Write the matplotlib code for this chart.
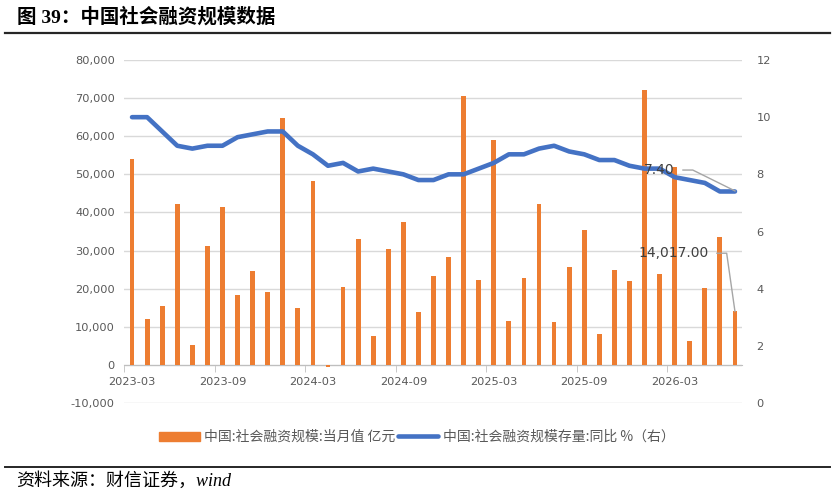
import matplotlib
matplotlib.use("Agg")
import matplotlib.pyplot as plt
import matplotlib.lines as mlines
import matplotlib.patches as mpatches
import pandas as pd

plt.rcParams['font.family'] = ['Noto Sans CJK SC', 'DejaVu Sans']

months = [p.strftime('%Y-%m') for p in pd.period_range('2023-03', '2026-07', freq='M')]

tsf_monthly = [53900, 12140, 15460, 42100, 5330, 31270, 41310, 18340, 24540, 19210,
               64720, 14930, 48300, -500, 20520, 33010, 7600, 30310, 37550, 13970,
               23230, 28380, 70480, 22270, 58950, 11620, 22880, 42180, 11270, 25680,
               35280, 8030, 24890, 22010, 72140, 23760, 51800, 6200, 20260, 33620,
               14017]

tsf_yoy = [10.0, 10.0, 9.5, 9.0, 8.9, 9.0, 9.0, 9.3, 9.4, 9.5,
           9.5, 9.0, 8.7, 8.3, 8.4, 8.1, 8.2, 8.1, 8.0, 7.8,
           7.8, 8.0, 8.0, 8.2, 8.4, 8.7, 8.7, 8.9, 9.0, 8.8,
           8.7, 8.5, 8.5, 8.3, 8.2, 8.2, 7.9, 7.8, 7.7, 7.4,
           7.4]

label_bar = "中国:社会融资规模:当月值 亿元"
label_line = "中国:社会融资规模存量:同比 %（右）"
title = "图 39：中国社会融资规模数据"
source = "资料来源：财信证券，wind"

ORANGE = '#ED7D31'
BLUE = '#4472C4'
GRID = '#D9D9D9'
TXT = '#595959'

W, H = 837, 494
fig = plt.figure(figsize=(W / 100, H / 100), dpi=100)

left, right, top, bottom = 124.5, 742.5, 60, 403
ax = fig.add_axes([left / W, 1 - bottom / H, (right - left) / W, (bottom - top) / H])
ax2 = ax.twinx()

x = list(range(len(months)))
ax.bar(x, tsf_monthly, width=0.32, color=ORANGE, zorder=2)
ax.set_xlim(-0.5, len(months) - 0.5)
ax.set_ylim(-10000, 80000)
ax.set_yticks(range(-10000, 80001, 10000))
ax.set_yticklabels([f"{v:,}" for v in range(-10000, 80001, 10000)], fontsize=8.2, color=TXT,
                   family=['DejaVu Sans'])
ax.yaxis.grid(True, color=GRID, lw=1, zorder=0)
ax.set_axisbelow(True)
ax.tick_params(axis='y', length=0, pad=7)
for s in ['top', 'right', 'left']:
    ax.spines[s].set_visible(False)
ax.spines['bottom'].set_position(('data', 0))
ax.spines['bottom'].set_color('#BFBFBF')
ax.spines['bottom'].set_zorder(1)

tick_idx = [i for i in x if i % 6 == 0]
ax.set_xticks(tick_idx)
ax.set_xticklabels([months[i] for i in tick_idx], fontsize=8.2, color=TXT, family=['DejaVu Sans'])
ax.tick_params(axis='x', which='major', length=0, pad=8.5)
ax.set_xticks([i - 0.5 for i in tick_idx], minor=True)
ax.tick_params(axis='x', which='minor', length=5, color='#BFBFBF', direction='out')

ax2.plot(x, tsf_yoy, color=BLUE, lw=3.3, solid_capstyle='round', solid_joinstyle='round', zorder=3)
ax2.set_ylim(0, 12)
ax2.set_yticks(range(0, 13, 2))
ax2.set_yticklabels([str(v) for v in range(0, 13, 2)], fontsize=8.2, color=TXT, family=['DejaVu Sans'])
ax2.tick_params(axis='y', length=0, pad=10)
for s in ax2.spines.values():
    s.set_visible(False)

# data labels with leader lines
n = len(months) - 1
ly = tsf_yoy[-1] + 0.75
ax2.annotate(f"{tsf_yoy[-1]:.2f}", xy=(n, tsf_yoy[-1]), xytext=(n - 5.05, ly),
             fontsize=10, color='#404040', ha='center', va='center', family=['DejaVu Sans'],
             zorder=5)
ax2.plot([n - 3.45, n - 2.8, n], [ly, ly, tsf_yoy[-1] + 0.02],
         color='#A6A6A6', lw=1, zorder=4)
by = 29300
ax.annotate(f"{tsf_monthly[-1]:,.2f}", xy=(n, tsf_monthly[-1]), xytext=(n - 4.05, by),
            fontsize=10, color='#404040', ha='center', va='center', family=['DejaVu Sans'],
            zorder=5)
ax.plot([n - 1.2, n - 0.55, n], [by, by, tsf_monthly[-1]], color='#A6A6A6', lw=1, zorder=4)

# legend
h1 = mpatches.Patch(color=ORANGE)
h2 = mlines.Line2D([], [], color=BLUE, lw=3.3, solid_capstyle='round')
leg = fig.legend([h1, h2], [label_bar, label_line], loc='center', bbox_to_anchor=(417 / W, 1 - 437 / H),
                 ncol=2, frameon=False, fontsize=10, handlelength=2.9, handleheight=0.6,
                 columnspacing=0.15, handletextpad=0.35, labelcolor=TXT)

# title and source
fig.text(17 / W, 1 - 17 / H, title, fontsize=14, fontweight='bold', va='center', ha='left',
         family=['Liberation Serif', 'Noto Sans CJK SC'], color='black')
fig.add_artist(mlines.Line2D([5 / W, 830 / W], [1 - 33 / H, 1 - 33 / H], color='#262626', lw=1.6))
fig.add_artist(mlines.Line2D([5 / W, 830 / W], [1 - 467 / H, 1 - 467 / H], color='#262626', lw=1.4))
fig.text(16 / W, 1 - 481 / H, source, fontsize=13, style='italic', va='center', ha='left',
         family=['Liberation Serif', 'Noto Sans CJK SC'], color='black')

fig.savefig('out.png', dpi=100)
